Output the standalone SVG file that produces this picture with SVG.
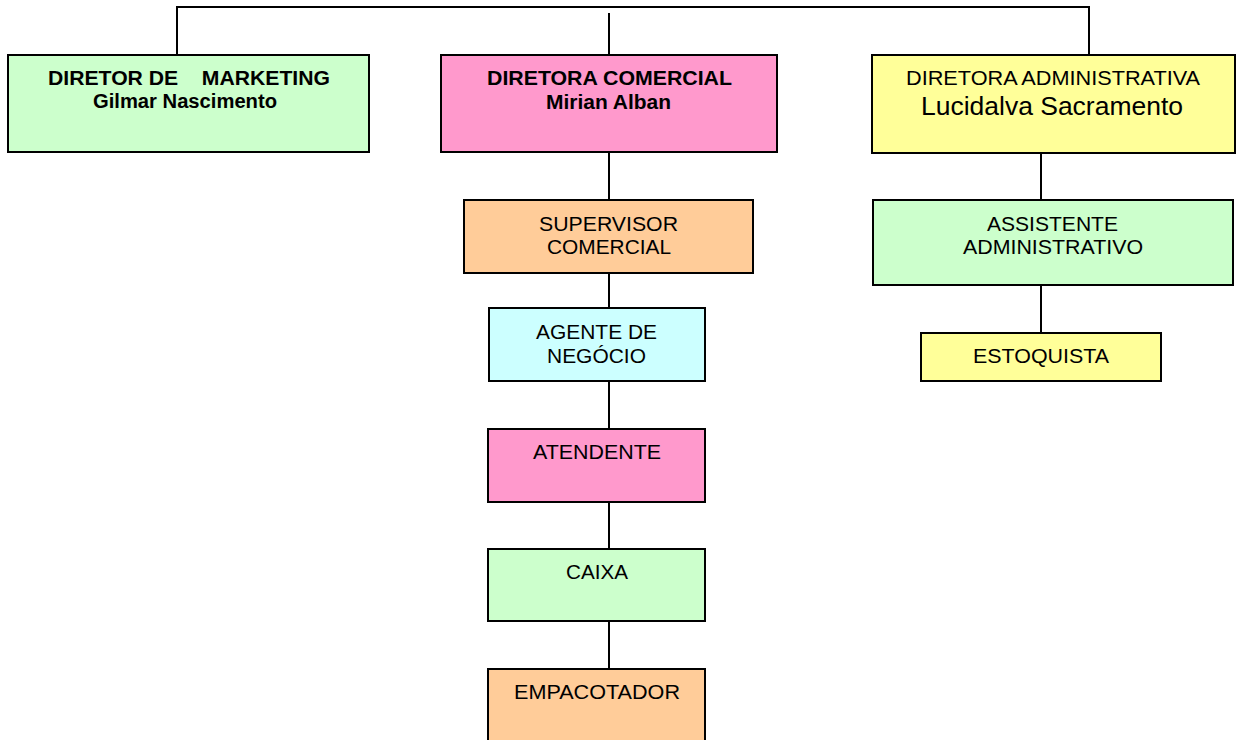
<svg xmlns="http://www.w3.org/2000/svg" width="1240" height="740" viewBox="0 0 1240 740">
<style>
.box{stroke:#000;stroke-width:2}
.g{fill:#CCFFCC}.p{fill:#FF99CC}.y{fill:#FFFF99}.o{fill:#FFCC99}.c{fill:#CCFFFF}
text{font-family:"Liberation Sans",Arial,sans-serif;font-size:20px;fill:#000;text-anchor:middle;white-space:pre}
.b{font-weight:bold}
.lg{font-size:25px}
.con{stroke:#000;stroke-width:2;fill:none}
</style>
<rect width="1240" height="740" fill="#fff"/>
<g id="connectors">
<path class="con" d="M177,7H1089M177,6V55M1089,6V55M609,13V55"/>
<path class="con" d="M609,152V200M609,273V308M609,381V429M609,502V549M609,621V669"/>
<path class="con" d="M1041,152V200M1041,285V333"/>
</g>
<g id="marketing">
<rect class="box g" x="8" y="55" width="361" height="97"/>
<text class="b" x="189" y="85" textLength="282" lengthAdjust="spacingAndGlyphs" xml:space="preserve">DIRETOR DE    MARKETING</text>
<text class="b" x="185" y="108" textLength="184" lengthAdjust="spacingAndGlyphs">Gilmar Nascimento</text>
</g>
<g id="comercial">
<rect class="box p" x="441" y="55" width="336" height="97"/>
<text class="b" x="609.5" y="85" textLength="245" lengthAdjust="spacingAndGlyphs">DIRETORA COMERCIAL</text>
<text class="b" x="608.5" y="109" textLength="125" lengthAdjust="spacingAndGlyphs">Mirian Alban</text>
</g>
<g id="administrativa">
<rect class="box y" x="872" y="55" width="363" height="98"/>
<text x="1053" y="85" textLength="294" lengthAdjust="spacingAndGlyphs">DIRETORA ADMINISTRATIVA</text>
<text class="lg" x="1052" y="115" textLength="262" lengthAdjust="spacingAndGlyphs">Lucidalva Sacramento</text>
</g>
<g id="supervisor">
<rect class="box o" x="464" y="200" width="289" height="73"/>
<text x="608.5" y="231" textLength="139" lengthAdjust="spacingAndGlyphs">SUPERVISOR</text>
<text x="609" y="254" textLength="124" lengthAdjust="spacingAndGlyphs">COMERCIAL</text>
</g>
<g id="agente">
<rect class="box c" x="489" y="308" width="216" height="73"/>
<text x="596.5" y="339" textLength="121" lengthAdjust="spacingAndGlyphs">AGENTE DE</text>
<text x="596.5" y="363" textLength="99" lengthAdjust="spacingAndGlyphs">NEGÓCIO</text>
</g>
<g id="atendente">
<rect class="box p" x="488" y="429" width="217" height="73"/>
<text x="597" y="459" textLength="128" lengthAdjust="spacingAndGlyphs">ATENDENTE</text>
</g>
<g id="caixa">
<rect class="box g" x="488" y="549" width="217" height="72"/>
<text x="597" y="579" textLength="62" lengthAdjust="spacingAndGlyphs">CAIXA</text>
</g>
<g id="empacotador">
<rect class="box o" x="488" y="669" width="217" height="80"/>
<text x="597" y="699" textLength="166" lengthAdjust="spacingAndGlyphs">EMPACOTADOR</text>
</g>
<g id="assistente">
<rect class="box g" x="873" y="200" width="360" height="85"/>
<text x="1052.5" y="231" textLength="131" lengthAdjust="spacingAndGlyphs">ASSISTENTE</text>
<text x="1053" y="254" textLength="180" lengthAdjust="spacingAndGlyphs">ADMINISTRATIVO</text>
</g>
<g id="estoquista">
<rect class="box y" x="921" y="333" width="240" height="48"/>
<text x="1041" y="363" textLength="136" lengthAdjust="spacingAndGlyphs">ESTOQUISTA</text>
</g>
</svg>
